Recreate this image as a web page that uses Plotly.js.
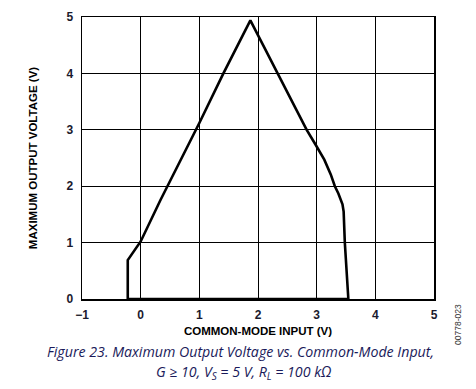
<!DOCTYPE html>
<html>
<head>
<meta charset="utf-8">
<script src="https://cdn.plot.ly/plotly-3.0.1.min.js"></script>
<style>html,body{margin:0;padding:0;background:#fff;}#chart{width:476px;height:389px;}</style>
</head>
<body>
<div id="chart"></div>
<script>
// Common-mode input (V) and maximum output voltage (V), traced around the boundary
var commonModeInput = [-0.22, -0.22, 0.0, 0.34, 1.0, 1.41, 1.87, 2.33, 2.83, 2.98, 3.13, 3.24, 3.31, 3.37, 3.41, 3.44, 3.46, 3.48, 3.54, -0.22];
var maxOutputVoltage = [0.0, 0.69, 1.02, 1.76, 3.12, 4.0, 4.94, 4.0, 3.0, 2.74, 2.47, 2.21, 2.0, 1.87, 1.77, 1.68, 1.55, 1.0, 0.0, 0.0];
var xTicks = [-1, 0, 1, 2, 3, 4, 5];
var xTickLabels = ["\u22121", "0", "1", "2", "3", "4", "5"];
var yTicks = [0, 1, 2, 3, 4, 5];

var tickFont = {family: "Liberation Sans, Arial, sans-serif", size: 12, color: "#1a1a2e", weight: "bold"};
var titleFont = {family: "Liberation Sans, Arial, sans-serif", size: 11.5, color: "#000", weight: "bold"};
var captionFont = {family: "Open Sans, Noto Sans, sans-serif", size: 14.2, color: "#1a1a5a", style: "italic"};

var trace = {
  x: commonModeInput,
  y: maxOutputVoltage,
  mode: "lines",
  line: {color: "#000", width: 2.6, shape: "linear"},
  hoverinfo: "skip",
  showlegend: false
};

var layout = {
  width: 476,
  height: 389,
  margin: {l: 81.5, r: 41.7, t: 17.3, b: 90},
  paper_bgcolor: "#fff",
  plot_bgcolor: "#fff",
  xaxis: {
    range: [-1, 5],
    tickvals: xTicks,
    ticktext: xTickLabels,
    showgrid: true, gridcolor: "#000", gridwidth: 1,
    zeroline: false,
    showline: true, linecolor: "#000", linewidth: 1.5, mirror: true,
    ticks: "", ticklabelstandoff: 4,
    tickfont: tickFont,
    title: {text: "COMMON-MODE INPUT (V)", font: titleFont, standoff: 6}
  },
  yaxis: {
    range: [0, 5],
    tickvals: yTicks,
    showgrid: true, gridcolor: "#000", gridwidth: 1,
    zeroline: false,
    showline: true, linecolor: "#000", linewidth: 1.5, mirror: true,
    ticks: "", ticklabelstandoff: 5,
    tickfont: tickFont,
    title: {text: "MAXIMUM OUTPUT VOLTAGE (V)", font: titleFont, standoff: 26}
  },
  annotations: [
    {
      xref: "paper", yref: "paper", x: 0.451, y: -0.186, xanchor: "center", yanchor: "middle",
      text: "Figure 23. Maximum Output Voltage vs. Common-Mode Input,",
      showarrow: false,
      font: captionFont
    },
    {
      xref: "paper", yref: "paper", x: 0.461, y: -0.262, xanchor: "center", yanchor: "middle",
      text: "G \u2265 10, V<sub>S</sub> = 5 V, R<sub>L</sub> = 100 k\u03a9",
      showarrow: false,
      font: captionFont
    },
    {
      xref: "paper", yref: "paper", x: 1.07, y: -0.01, xanchor: "center", yanchor: "top",
      text: "00778-023", textangle: -90,
      showarrow: false,
      font: {family: "Liberation Sans, Arial, sans-serif", size: 8.5, color: "#333"}
    }
  ]
};

Plotly.newPlot("chart", [trace], layout, {displayModeBar: false, staticPlot: true});
</script>
</body>
</html>
